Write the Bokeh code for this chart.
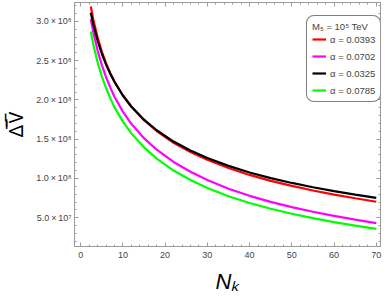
from bokeh.plotting import figure
from bokeh.models import FixedTicker, LinearAxis, Legend, LegendItem, Range1d
from bokeh.embed import file_html
from bokeh.resources import INLINE

# N_k sample points
N = [2.4, 3, 4, 5, 6, 7, 8, 10, 12, 15, 18, 22, 26, 30, 35, 40, 45, 50, 55, 60, 65, 70]

# Delta V values in units of 1e8
dv_0393 = [3.19, 3.02, 2.796, 2.616, 2.467, 2.344, 2.235, 2.056, 1.913, 1.741, 1.604,
           1.455, 1.337, 1.238, 1.133, 1.045, 0.970, 0.905, 0.847, 0.795, 0.748, 0.704]
dv_0702 = [3.03, 2.861, 2.631, 2.446, 2.292, 2.159, 2.04, 1.851, 1.696, 1.513, 1.366,
           1.21, 1.085, 0.98, 0.87, 0.779, 0.702, 0.635, 0.576, 0.523, 0.476, 0.432]
dv_0325 = [3.11, 2.961, 2.756, 2.591, 2.452, 2.334, 2.23, 2.056, 1.916, 1.748, 1.614,
           1.47, 1.355, 1.26, 1.16, 1.076, 1.005, 0.943, 0.888, 0.839, 0.795, 0.754]
dv_0785 = [2.87, 2.706, 2.481, 2.301, 2.152, 2.023, 1.908, 1.724, 1.574, 1.396, 1.253,
           1.101, 0.98, 0.879, 0.774, 0.687, 0.614, 0.551, 0.495, 0.445, 0.40, 0.358]

series_labels = ["α = 0.0393", "α = 0.0702", "α = 0.0325", "α = 0.0785"]
series_colors = ["#ff0000", "#ff00ff", "#000000", "#00ff00"]
series_values = [dv_0393, dv_0702, dv_0325, dv_0785]

x_ticks = [0, 10, 20, 30, 40, 50, 60, 70]
x_minor = [v for v in range(0, 72, 2)]
y_ticks = [0.5, 1.0, 1.5, 2.0, 2.5, 3.0]
y_tick_labels = ["5.0\u2009×\u200910⁷", "1.0\u2009×\u200910⁸", "1.5\u2009×\u200910⁸",
                 "2.0\u2009×\u200910⁸", "2.5\u2009×\u200910⁸", "3.0\u2009×\u200910⁸"]
y_minor = [v / 10 for v in range(2, 33)]

FONT = "Liberation Sans"
GRAY = "#9a9a9a"

p = figure(width=382, height=296, output_backend="svg", toolbar_location=None,
           x_range=Range1d(-1.46, 71.0), y_range=Range1d(0.134, 3.24),
           min_border_left=62, min_border_right=2, min_border_top=2, min_border_bottom=47)
p.grid.visible = False
p.outline_line_color = GRAY
p.background_fill_color = "white"

renderers = []
for vals, col in zip(series_values, series_colors):
    r = p.line(N, vals, line_color=col, line_width=2.2)
    renderers.append(r)

xt = FixedTicker(ticks=x_ticks, minor_ticks=x_minor)
yt = FixedTicker(ticks=y_ticks, minor_ticks=y_minor)

def style(ax, show_labels):
    ax.axis_line_color = GRAY
    ax.major_tick_line_color = GRAY
    ax.minor_tick_line_color = GRAY
    ax.major_tick_in = 4
    ax.major_tick_out = 0
    ax.minor_tick_in = 2
    ax.minor_tick_out = 0
    if show_labels:
        ax.major_label_text_font = FONT
        ax.major_label_text_font_size = "9px"
        ax.major_label_text_color = "#444444"
    else:
        ax.major_label_text_font_size = "0px"
        ax.major_label_text_alpha = 0
        ax.major_label_standoff = 0

xa = p.xaxis[0]
xa.ticker = xt
style(xa, True)
xa.major_label_standoff = 5
xa.axis_label = "Nₖ"
xa.axis_label_text_font = FONT
xa.axis_label_text_font_style = "italic"
xa.axis_label_text_font_size = "22px"
xa.axis_label_text_color = "#000000"
xa.axis_label_standoff = 8

ya = p.yaxis[0]
ya.ticker = yt
ya.major_label_overrides = {t: s for t, s in zip(y_ticks, y_tick_labels)}
style(ya, True)
ya.major_label_standoff = 3
ya.axis_label = "\u0394\u0305\u200a\u0305V\u0305"
ya.axis_label_text_font = "Noto Sans"
ya.axis_label_text_font_style = "normal"
ya.axis_label_text_font_size = "19px"
ya.axis_label_text_color = "#000000"
ya.axis_label_standoff = 4

top = LinearAxis(ticker=xt)
style(top, False)
p.add_layout(top, "above")
right = LinearAxis(ticker=yt)
style(right, False)
p.add_layout(right, "right")

items = [LegendItem(label=lab, renderers=[r]) for lab, r in zip(series_labels, renderers)]
legend = Legend(items=items, location=(232, 144), title="M₅ = 10⁵ TeV",
                border_line_color="black", border_line_width=1,
                background_fill_color="white", background_fill_alpha=1,
                label_text_font=FONT, label_text_font_size="9.5px",
                title_text_font=FONT, title_text_font_size="9.5px",
                title_text_font_style="normal", title_standoff=1,
                padding=5, spacing=5, label_height=12, glyph_height=12,
                glyph_width=14, label_standoff=4, margin=0)
if "border_radius" in Legend.properties():
    legend.border_radius = 8
p.add_layout(legend)

open("out.html", "w").write(file_html(p, INLINE))
